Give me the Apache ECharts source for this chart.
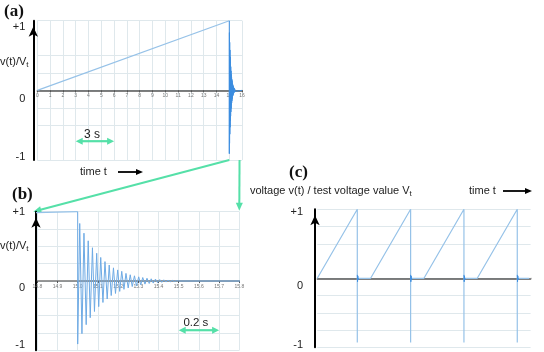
<!DOCTYPE html>
<html lang="en">
<head>
  <meta charset="utf-8">
</head>
<body style="margin: 0; background-color:#ffffff;">
  <div id="container" style="width: 544px; height: 352px"></div>

<script src="https://fastly.jsdelivr.net/npm/echarts@6/dist/echarts.min.js"></script>

<script>
  // (a)/(b): linear ramp up to the test voltage, then the ring-down after the discharge
  var rampTimes = [0, 15];
  var rampValues = [0, 1];
  // ringing peaks: time in s, value as fraction of Vt
  var ringTimes = [15.000, 15.010, 15.021, 15.031, 15.042, 15.052, 15.062, 15.073, 15.083, 15.094,
                   15.104, 15.114, 15.125, 15.135, 15.146, 15.156, 15.166, 15.177, 15.187, 15.198,
                   15.208, 15.218, 15.229, 15.239, 15.250, 15.260, 15.270, 15.281, 15.291, 15.302,
                   15.312, 15.322, 15.333, 15.343, 15.354, 15.364, 15.374, 15.385, 15.395, 15.406,
                   15.416, 15.426, 15.437, 15.447, 15.458, 15.468, 15.478, 15.489, 15.500];
  var ringValues = [-0.91, 0.83, -0.76, 0.69, -0.63, 0.58, -0.53, 0.48, -0.44, 0.40,
                    -0.37, 0.34, -0.31, 0.28, -0.26, 0.23, -0.21, 0.19, -0.18, 0.16,
                    -0.15, 0.14, -0.12, 0.11, -0.10, 0.09, -0.08, 0.075, -0.07, 0.06,
                    -0.055, 0.05, -0.045, 0.04, -0.036, 0.032, -0.03, 0.027, -0.024, 0.021,
                    -0.019, 0.017, -0.015, 0.013, -0.011, 0.009, -0.007, 0.005, 0];
  var flatEnd = 16;

  // scale bars (green double arrows)
  var aScaleBar = [3, 6], aScaleLevel = -0.73;
  var bScaleBar = [15.5, 15.7], bScaleLevel = -0.71;
  // zoom window of (a) shown in (b)
  var zoomWindow = [14.8, 15.8];

  // (c): repeated test cycles
  var cycleStarts = [0, 4, 8, 12];
  var cycleEnds = [3, 7, 11, 15];
  var cycleSpike = -0.93;
  var cRingOffsets = [0, 0.02, 0.04, 0.06, 0.08];
  var cRingValues = [0.05, -0.05, 0.035, -0.025, 0];
  var cFlatEnd = 15.9;
  var cTail = [16, 16.6];

  var yTickValues = [-1, 0, 1];
  var yTickLabels = ['-1', '0', '+1'];

  var lightBlue = '#96c2e8';
  var green = '#55e0a8';
  var gridColor = '#dfe8ec';

  var dom = document.getElementById('container');
  var myChart = echarts.init(dom);

  var rampData = rampTimes.map(function (t, i) { return [t, rampValues[i]]; });
  var ringData = [[rampTimes[1], rampValues[1]]];
  ringTimes.forEach(function (t, i) { ringData.push([t, ringValues[i]]); });
  ringData.push([flatEnd, 0]);

  var cSignal = [];
  cycleStarts.forEach(function (s, i) {
    var e = cycleEnds[i];
    cSignal.push([s, 0], [e, 1], [e, cycleSpike], [e, 0]);
  });
  cSignal.push([cFlatEnd, 0]);

  // shift a y label up/down via rich padding
  function shift(d) {
    return { fontSize: 11, fontFamily: 'Liberation Sans', color: '#222',
      padding: d >= 0 ? [2 * d, 0, 0, 0] : [0, 0, -2 * d, 0] };
  }

  function yAxisFor(grid, offset, margin, shifts, lineColors) {
    return {
      gridIndex: grid, type: 'value', min: -1, max: 1, interval: 0.25, offset: offset,
      axisLine: {
        show: true, onZero: false, symbol: ['none', 'arrow'], symbolSize: [7, 10],
        symbolOffset: [0, -6], lineStyle: { color: '#000', width: 2 }
      },
      axisTick: { show: false },
      axisLabel: {
        margin: margin,
        formatter: function (v) {
          var k = yTickValues.indexOf(v);
          return k < 0 ? '' : '{s' + k + '|' + yTickLabels[k] + '}';
        },
        rich: { s0: shift(shifts[0]), s1: shift(shifts[1]), s2: shift(shifts[2]) }
      },
      splitLine: { show: true, lineStyle: { color: lineColors, width: 1 } }
    };
  }

  var grids = [
    { left: 37.3, top: 20.7, width: 204.8, height: 139.3 },
    { left: 37.3, top: 211.7, width: 202, height: 138.6 },
    { left: 317.3, top: 209.3, width: 213.3, height: 138 }
  ];

  var T = 'transparent';
  var option = {
    animation: false,
    grid: grids,
    xAxis: [
      {
        // moved up to the zero level so the tick labels sit under it
        gridIndex: 0, type: 'value', min: 0, max: 16, interval: 1, offset: -grids[0].height / 2,
        axisLine: { onZero: false, lineStyle: { color: '#555', width: 1.5 } },
        axisTick: { show: true, length: 2, lineStyle: { color: '#555' } },
        axisLabel: { fontSize: 5, margin: 3, color: '#777', fontFamily: 'Liberation Sans' },
        splitLine: { show: true, lineStyle: { color: gridColor } }
      },
      {
        gridIndex: 1, type: 'value', min: zoomWindow[0], max: zoomWindow[1], interval: 0.1,
        offset: -grids[1].height / 2,
        axisLine: { onZero: false, lineStyle: { color: '#777', width: 1.5 } },
        axisTick: { show: true, length: 2, lineStyle: { color: '#555' } },
        axisLabel: { fontSize: 5, margin: 3, color: '#777', fontFamily: 'Liberation Sans',
          formatter: function (v) { return v.toFixed(1); } },
        splitLine: { show: true, lineStyle: { color: gridColor } }
      },
      {
        gridIndex: 2, type: 'value', min: 0, max: 16, interval: 1, offset: -grids[2].height / 2,
        axisLine: { onZero: false, lineStyle: { color: '#555', width: 1.5 } },
        axisTick: { show: false },
        axisLabel: { show: false },
        splitLine: { show: false }
      }
    ],
    yAxis: [
      yAxisFor(0, 4, 8, [-3, 9, 6], [gridColor, T, gridColor, gridColor, gridColor, gridColor, gridColor, T, gridColor]),
      yAxisFor(1, 1.3, 11, [-5, 7, 0], [gridColor]),
      yAxisFor(2, 2.3, 12, [-2, 8, 3], [gridColor, gridColor, gridColor, gridColor, gridColor, T, gridColor, gridColor, gridColor])
    ],
    series: [
      { type: 'line', xAxisIndex: 0, yAxisIndex: 0, data: rampData, showSymbol: false,
        lineStyle: { color: lightBlue, width: 1.2 } },
      { type: 'line', xAxisIndex: 0, yAxisIndex: 0, data: ringData, showSymbol: false,
        lineStyle: { color: '#3d8ee0', width: 1 } },
      { type: 'line', xAxisIndex: 1, yAxisIndex: 1, data: rampData, showSymbol: false,
        lineStyle: { color: lightBlue, width: 1.2 } },
      { type: 'line', xAxisIndex: 1, yAxisIndex: 1, data: ringData, showSymbol: false,
        lineStyle: { color: '#6eaae4', width: 1 } },
      { type: 'line', xAxisIndex: 2, yAxisIndex: 2, data: cSignal, showSymbol: false,
        lineStyle: { color: lightBlue, width: 1.2 } },
      { type: 'line', xAxisIndex: 2, yAxisIndex: 2, data: cTail.map(function (t) { return [t, 0]; }),
        showSymbol: false, clip: false, lineStyle: { color: '#999', width: 1, type: [1, 2] } }
    ].concat(cycleEnds.map(function (e) {
      return { type: 'line', xAxisIndex: 2, yAxisIndex: 2, showSymbol: false,
        data: cRingOffsets.map(function (o, j) { return [e + o, cRingValues[j]]; }),
        lineStyle: { color: '#3d8ee0', width: 1 } };
    }))
  };

  myChart.setOption(option);

  function arrow(p1, p2, color, width, headLen, headHalf, both) {
    var dx = p2[0] - p1[0], dy = p2[1] - p1[1];
    var len = Math.sqrt(dx * dx + dy * dy);
    var ux = dx / len, uy = dy / len;
    function head(tx, ty, ax, ay) {
      var bx = tx - ax * headLen, by = ty - ay * headLen;
      return { type: 'polygon', silent: true,
        shape: { points: [[tx, ty], [bx - ay * headHalf, by + ax * headHalf], [bx + ay * headHalf, by - ax * headHalf]] },
        style: { fill: color } };
    }
    var s = both ? [p1[0] + ux * headLen * 0.8, p1[1] + uy * headLen * 0.8] : p1;
    var items = [{ type: 'line', silent: true,
      shape: { x1: s[0], y1: s[1], x2: p2[0] - ux * headLen * 0.8, y2: p2[1] - uy * headLen * 0.8 },
      style: { stroke: color, lineWidth: width } }];
    items.push(head(p2[0], p2[1], ux, uy));
    if (both) items.push(head(p1[0], p1[1], -ux, -uy));
    return items;
  }

  function text(str, x, y, size, extra) {
    var t = { type: 'text', x: x, y: y, silent: true,
      style: { text: str, fontSize: size, fontFamily: 'Liberation Sans', fill: '#222', verticalAlign: 'middle' } };
    if (extra) Object.assign(t.style, extra);
    return t;
  }

  var vLabelRich = { m: { fontSize: 11, fontFamily: 'Liberation Sans' },
    s: { fontSize: 8, fontFamily: 'Liberation Sans', padding: [6, 0, 0, 0] } };

  function px(grid, pt) { return myChart.convertToPixel({ gridIndex: grid }, pt); }

  var a1 = px(0, [aScaleBar[0], aScaleLevel]), a2 = px(0, [aScaleBar[1], aScaleLevel]);
  var b1 = px(1, [bScaleBar[0], bScaleLevel]), b2 = px(1, [bScaleBar[1], bScaleLevel]);
  var zA1 = px(0, [rampTimes[1], -1]), zB1 = px(1, [zoomWindow[0], 1]);
  var zA2 = px(0, [zoomWindow[1], -1]), zB2 = px(1, [zoomWindow[1], 1]);

  var g = [];
  g.push(text('(a)', 4, 12, 17, { fontFamily: 'Liberation Serif', fontWeight: 'bold', fill: '#111' }));
  g.push(text('(b)', 12, 195, 17, { fontFamily: 'Liberation Serif', fontWeight: 'bold', fill: '#111' }));
  g.push(text('(c)', 289, 173, 17, { fontFamily: 'Liberation Serif', fontWeight: 'bold', fill: '#111' }));
  g.push(text('{m|v(t)/V}{s|t}', 0, 62, 11, { rich: vLabelRich }));
  g.push(text('{m|v(t)/V}{s|t}', 0, 246, 11, { rich: vLabelRich }));
  g.push(text('{m|voltage v(t) / test voltage value V}{s|t}', 250, 191, 11, { rich: vLabelRich }));
  g.push(text('time t', 80, 172, 11));
  g.push(text('time t', 469, 191, 11));
  g = g.concat(arrow([118, 172], [143, 172], '#000', 1.8, 7, 3, false));
  g = g.concat(arrow([503, 191], [532, 191], '#000', 1.8, 7, 3, false));
  g = g.concat(arrow(a1, a2, green, 2.2, 7, 3.5, true));
  g = g.concat(arrow(b1, b2, green, 2.2, 7, 3.5, true));
  g.push(text('3 s', (a1[0] + a2[0]) / 2 - 3, a1[1] - 7, 12, { align: 'center' }));
  g.push(text('0.2 s', (b1[0] + b2[0]) / 2 - 3, b1[1] - 7, 11.5, { align: 'center' }));
  g = g.concat(arrow(zA1, [zB1[0] - 4, zB1[1]], green, 2, 8, 3.5, false));
  g = g.concat(arrow(zA2, [zB2[0], zB2[1] - 1], green, 2, 8, 3.5, false));

  myChart.setOption({ graphic: g });

  window.addEventListener('resize', myChart.resize);
</script>

</body>
</html>
